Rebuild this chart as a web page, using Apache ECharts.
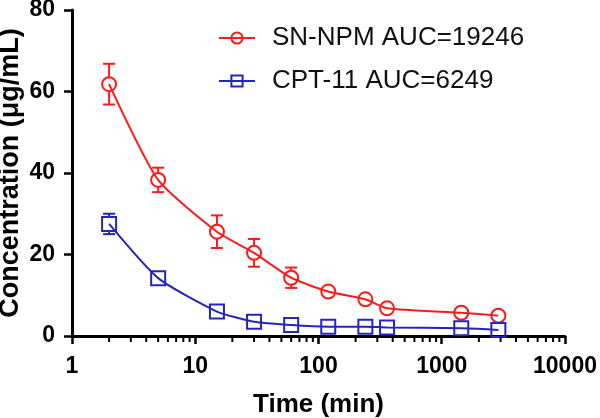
<!DOCTYPE html>
<html>
<head>
<meta charset="utf-8">
<script src="https://cdn.jsdelivr.net/npm/echarts@6/dist/echarts.min.js"></script>
<style>html,body{margin:0;padding:0;background:#fff}#c{width:600px;height:418px}</style>
</head>
<body>
<div id="c"></div>
<script>
var times = [2, 5, 15, 30, 60, 120, 240, 360, 1440, 2880];
var snnpm = [61.8, 38.3, 25.6, 20.4, 14.3, 10.9, 9.0, 6.8, 5.7, 5.0];
var snnpmErr = [5.0, 3.0, 4.0, 3.4, 2.5, 0.8, 0.8, 0.6, 0.5, 0.5];
var cpt11 = [27.5, 14.2, 6.0, 3.5, 2.7, 2.3, 2.3, 2.1, 1.9, 1.5];
var cpt11Err = [2.5, 1.2, 0.6, 0.4, 0.3, 0.3, 0.3, 0.2, 0.2, 0.2];
var seriesNames = ['SN-NPM AUC=19246', 'CPT-11 AUC=6249'];
var yTicks = [0, 20, 40, 60, 80];
var minorX = [2,3,4,5,6,7,8,9,20,30,40,50,60,70,80,90,200,300,400,500,600,700,800,900,2000,3000,4000,5000,6000,7000,8000,9000];

var RED = '#ff1a1a', BLUE = '#2424c0';
var FONT = 'Arial, "Liberation Sans", sans-serif';

function pts(ys) { return times.map(function (t, i) { return [t, ys[i]]; }); }
function errPts(ys, es) { return times.map(function (t, i) { return [t, ys[i], es[i]]; }); }

function errRender(color, gap) {
  return function (params, api) {
    var x = api.value(0), y = api.value(1), e = api.value(2);
    var c = api.coord([x, y]);
    var t = api.coord([x, y + e]);
    var b = api.coord([x, y - e]);
    var children = [];
    var half = 6;
    var st = { stroke: color, lineWidth: 2 };
    if (c[1] - t[1] > gap) {
      children.push({ type: 'line', shape: { x1: c[0], y1: c[1] - gap, x2: c[0], y2: t[1] }, style: st });
      children.push({ type: 'line', shape: { x1: c[0] - half, y1: t[1], x2: c[0] + half, y2: t[1] }, style: st });
    }
    if (b[1] - c[1] > gap) {
      children.push({ type: 'line', shape: { x1: c[0], y1: c[1] + gap, x2: c[0], y2: b[1] }, style: st });
      children.push({ type: 'line', shape: { x1: c[0] - half, y1: b[1], x2: c[0] + half, y2: b[1] }, style: st });
    }
    return { type: 'group', children: children };
  };
}

function minorTickRender(params, api) {
  var p = api.coord([api.value(0), 0]);
  return { type: 'line', shape: { x1: p[0], y1: p[1] + 1, x2: p[0], y2: p[1] + 6 }, style: { stroke: '#000', lineWidth: 2 } };
}

var chart = echarts.init(document.getElementById('c'), null, { renderer: 'canvas' });
chart.setOption({
  animation: false,
  backgroundColor: '#fff',
  textStyle: { fontFamily: FONT },
  grid: { left: 72, right: 35, top: 10, bottom: 82, containLabel: false, outerBoundsMode: 'none' },
  legend: {
    orient: 'vertical', left: 213, top: 20, itemGap: 17,
    itemWidth: 36, itemHeight: 14,
    textStyle: { fontSize: 26, color: '#111', fontFamily: FONT, padding: [0, 0, 0, 12] },
    data: seriesNames
  },
  xAxis: {
    type: 'log', logBase: 10, min: 1, max: 10000,
    name: 'Time (min)', nameLocation: 'middle', nameGap: 56, nameMoveOverlap: false,
    nameTextStyle: { fontSize: 26, fontWeight: 'bold', color: '#000' },
    axisLine: { lineStyle: { color: '#000', width: 3 } },
    axisTick: { inside: false, length: 8, lineStyle: { color: '#000', width: 2.5 } },
    axisLabel: { fontSize: 23, fontWeight: 'bold', color: '#000', margin: 19, formatter: function (v) { return String(Math.round(v)); } },
    splitLine: { show: false }, minorTick: { show: false }
  },
  yAxis: {
    type: 'value', min: 0, max: 80, interval: 20,
    name: 'Concentration (μg/mL)', nameLocation: 'middle', nameGap: 48, nameMoveOverlap: false,
    nameTextStyle: { fontSize: 27, fontWeight: 'bold', color: '#000' },
    axisLine: { show: true, lineStyle: { color: '#000', width: 3 } },
    axisTick: { show: true, inside: false, length: 8, lineStyle: { color: '#000', width: 2.5 }, customValues: yTicks },
    axisLabel: { fontSize: 23, fontWeight: 'bold', color: '#000', margin: 17, customValues: yTicks },
    splitLine: { show: false }
  },
  series: [
    {
      name: seriesNames[0], type: 'line', smooth: 0.2, data: pts(snnpm),
      symbol: 'circle', symbolSize: 14, z: 3,
      lineStyle: { color: RED, width: 2 },
      itemStyle: { color: 'rgba(255,255,255,0)', borderColor: RED, borderWidth: 2 }
    },
    {
      name: seriesNames[1], type: 'line', smooth: 0.2, data: pts(cpt11),
      symbol: 'rect', symbolSize: 14, z: 3,
      lineStyle: { color: BLUE, width: 2 },
      itemStyle: { color: 'rgba(255,255,255,0)', borderColor: BLUE, borderWidth: 2 }
    },
    { type: 'custom', renderItem: errRender(RED, 7), data: errPts(snnpm, snnpmErr), z: 2, silent: true },
    { type: 'custom', renderItem: errRender(BLUE, 7), data: errPts(cpt11, cpt11Err), z: 2, silent: true },
    { type: 'custom', renderItem: minorTickRender, data: minorX.map(function (v) { return [v]; }), clip: false, z: 5, silent: true }
  ]
});
</script>
</body>
</html>
